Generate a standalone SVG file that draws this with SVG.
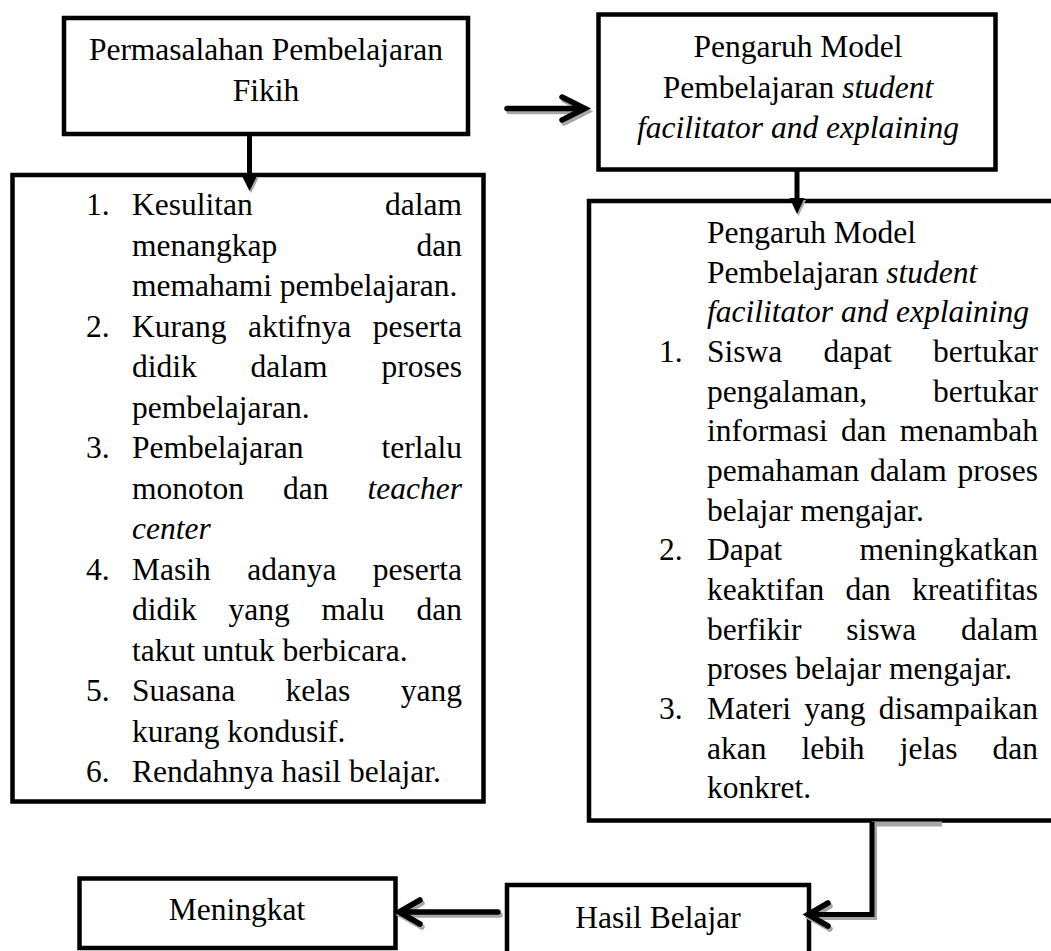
<svg xmlns="http://www.w3.org/2000/svg" width="1051" height="951" viewBox="0 0 1051 951">
<style>
.t{font-family:"Liberation Serif","Times New Roman",serif;font-size:31.5px;fill:#000}
.e{text-anchor:end}
.m{text-anchor:middle}
.i{font-style:italic}
.box{fill:#fff;stroke:#000;stroke-width:4.5}
.ln{stroke:#000;stroke-width:5;fill:none;stroke-linejoin:miter}
.sh{stroke:#a6a6a6;stroke-width:5;fill:none}
.hd{stroke:#000;stroke-width:5.5;fill:none;stroke-linecap:round;stroke-linejoin:miter}
.hs{stroke:#a6a6a6;stroke-width:5.5;fill:none;stroke-linecap:round}
.tri{fill:#000}
.tris{fill:#a6a6a6}
</style>
<rect width="1051" height="951" fill="#fff"/>

<g id="node-permasalahan">
<rect class="box" x="64" y="18" width="404" height="116"/>
<text class="t m" x="266" y="60">Permasalahan Pembelajaran</text>
<text class="t m" x="266" y="100.5">Fikih</text>
</g>

<g id="node-pengaruh-top">
<rect class="box" x="598.5" y="14.5" width="397" height="155"/>
<text class="t m" x="798" y="57">Pengaruh Model</text>
<text class="t m" x="798" y="97.5">Pembelajaran <tspan class="i">student</tspan></text>
<text class="t m i" x="798" y="138">facilitator and explaining</text>
</g>

<g id="node-masalah-list">
<rect class="box" x="12.5" y="175" width="471" height="626.5"/>
<text class="t" x="86" y="215">1.</text>
<text class="t" x="132" y="215">Kesulitan</text><text class="t e" x="462" y="215">dalam</text>
<text class="t" x="132" y="255.5">menangkap</text><text class="t e" x="462" y="255.5">dan</text>
<text class="t" x="132" y="296">memahami pembelajaran.</text>
<text class="t" x="86" y="336.5">2.</text>
<text class="t" x="132" y="336.5">Kurang</text><text class="t" x="248" y="336.5">aktifnya</text><text class="t e" x="462" y="336.5">peserta</text>
<text class="t" x="132" y="377">didik</text><text class="t" x="250.6" y="377">dalam</text><text class="t e" x="462" y="377">proses</text>
<text class="t" x="132" y="417.5">pembelajaran.</text>
<text class="t" x="86" y="458">3.</text>
<text class="t" x="132" y="458">Pembelajaran</text><text class="t e" x="462" y="458">terlalu</text>
<text class="t" x="132" y="498.5">monoton</text><text class="t" x="283" y="498.5">dan</text><text class="t e i" x="462" y="498.5">teacher</text>
<text class="t i" x="132" y="539">center</text>
<text class="t" x="86" y="579.5">4.</text>
<text class="t" x="132" y="579.5">Masih</text><text class="t" x="247.2" y="579.5">adanya</text><text class="t e" x="462" y="579.5">peserta</text>
<text class="t" x="132" y="620">didik</text><text class="t" x="228.6" y="620">yang</text><text class="t" x="321.6" y="620">malu</text><text class="t e" x="462" y="620">dan</text>
<text class="t" x="132" y="660.5">takut untuk berbicara.</text>
<text class="t" x="86" y="701">5.</text>
<text class="t" x="132" y="701">Suasana</text><text class="t" x="285.6" y="701">kelas</text><text class="t e" x="462" y="701">yang</text>
<text class="t" x="132" y="741.5">kurang kondusif.</text>
<text class="t" x="86" y="782">6.</text>
<text class="t" x="132" y="782">Rendahnya hasil belajar.</text>
</g>

<g id="node-pengaruh-list">
<rect class="box" x="589" y="201" width="480" height="619.5"/>
<text class="t" x="707" y="243">Pengaruh Model</text>
<text class="t" x="707" y="282.7">Pembelajaran <tspan class="i">student</tspan></text>
<text class="t i" x="707" y="322.3">facilitator and explaining</text>
<text class="t" x="659" y="362">1.</text>
<text class="t" x="707" y="362">Siswa</text><text class="t" x="823.5" y="362">dapat</text><text class="t e" x="1038" y="362">bertukar</text>
<text class="t" x="707" y="401.6">pengalaman,</text><text class="t e" x="1038" y="401.6">bertukar</text>
<text class="t" x="707" y="441.3">informasi</text><text class="t" x="841" y="441.3">dan</text><text class="t e" x="1038" y="441.3">menambah</text>
<text class="t" x="707" y="480.9">pemahaman</text><text class="t" x="869.9" y="480.9">dalam</text><text class="t e" x="1038" y="480.9">proses</text>
<text class="t" x="707" y="520.6">belajar mengajar.</text>
<text class="t" x="659" y="560.2">2.</text>
<text class="t" x="707" y="560.2">Dapat</text><text class="t e" x="1038" y="560.2">meningkatkan</text>
<text class="t" x="707" y="599.9">keaktifan</text><text class="t" x="845.4" y="599.9">dan</text><text class="t e" x="1038" y="599.9">kreatifitas</text>
<text class="t" x="707" y="639.5">berfikir</text><text class="t" x="846.3" y="639.5">siswa</text><text class="t e" x="1038" y="639.5">dalam</text>
<text class="t" x="707" y="679.2">proses belajar mengajar.</text>
<text class="t" x="659" y="718.8">3.</text>
<text class="t" x="707" y="718.8">Materi</text><text class="t" x="804.3" y="718.8">yang</text><text class="t e" x="1038" y="718.8">disampaikan</text>
<text class="t" x="707" y="758.5">akan</text><text class="t" x="801.6" y="758.5">lebih</text><text class="t" x="899.7" y="758.5">jelas</text><text class="t e" x="1038" y="758.5">dan</text>
<text class="t" x="707" y="798.1">konkret.</text>
</g>

<g id="node-hasil">
<rect class="box" x="507" y="885" width="302" height="80"/>
<text class="t m" x="658" y="928">Hasil Belajar</text>
</g>

<g id="node-meningkat">
<rect class="box" x="79.5" y="878.5" width="316" height="69.5"/>
<text class="t m" x="237" y="920">Meningkat</text>
</g>

<g id="connectors">
<!-- top-left box to list -->
<polygon class="tris" points="243.5,178 258.5,178 251,193"/>
<line class="ln" x1="249.5" y1="136" x2="249.5" y2="180"/>
<polygon class="tri" points="242,176 257,176 249.5,191"/>
<!-- top horizontal arrow -->
<path class="hs" d="M509 111.5 H582 M564 100 L587 111.5 L564 123"/>
<path class="hd" d="M507 108.5 H580 M562 97 L585 108.5 L562 120"/>
<!-- top-right box to right list -->
<polygon class="tris" points="791,200 806,200 798.5,216"/>
<line class="ln" x1="797" y1="171" x2="797" y2="202"/>
<polygon class="tri" points="789.5,198 804.5,198 797,214"/>
<!-- elbow from right list to hasil -->
<path class="sh" d="M942 824 H874.5 V917.5 H813"/>
<path class="hs" d="M830 906 L810 917.5 L830 929"/>
<path class="ln" d="M872 822 V914.5 H811"/>
<path class="hd" d="M828 903 L808 914.5 L828 926"/>
<!-- hasil to meningkat -->
<path class="hs" d="M500 915 H404 M422 903 L401 915 L422 927"/>
<path class="hd" d="M498 912 H402 M420 900 L399 912 L420 924"/>
</g>
</svg>
